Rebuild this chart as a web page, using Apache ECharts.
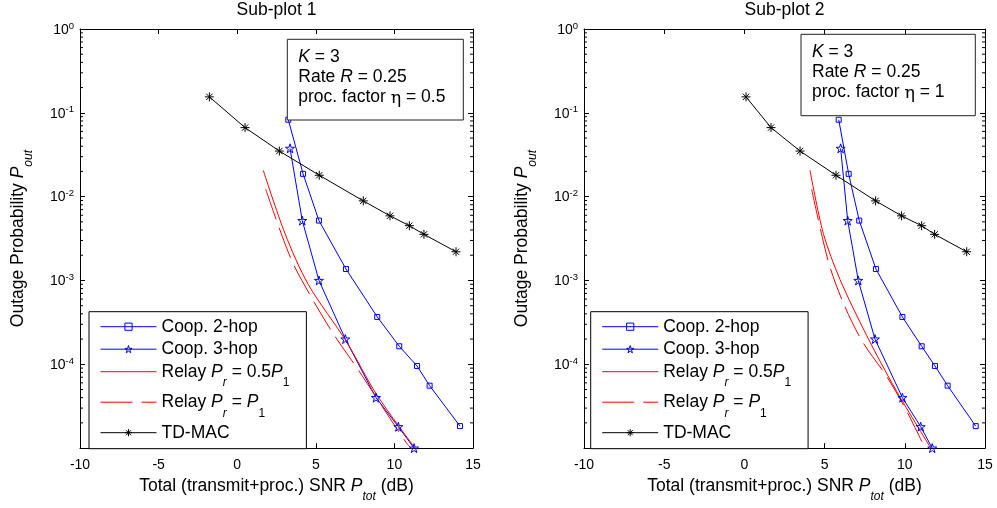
<!DOCTYPE html>
<html>
<head>
<meta charset="utf-8">
<script src="https://cdn.jsdelivr.net/npm/echarts@6/dist/echarts.min.js"></script>
<style>html,body{margin:0;background:#fff}#chart{width:997px;height:508px}</style>
</head>
<body>
<div id="chart"></div>
<script>
// values (x = total SNR in dB, y = outage probability)
const coop2Y = [0.0827, 0.0187, 0.00518, 0.00137, 3.67e-4, 1.64e-4, 9.55e-5, 5.56e-5, 1.83e-5];
const coop3Y = [0.0377, 0.00518, 1.0e-3, 2.0e-4, 4.0e-5, 1.8e-5, 1.0e-5];
const tdY = [0.155, 0.0666, 0.035, 0.018, 0.0089, 0.0059, 0.0045, 0.00355, 0.0022];

// sub-plot 1, eta = 0.5
const coop2X_1 = [3.25, 4.19, 5.20, 6.92, 8.91, 10.31, 11.44, 12.24, 14.17];
const coop3X_1 = [3.36, 4.14, 5.20, 6.88, 8.83, 10.25, 11.25];
const tdX_1 = [-1.77, 0.50, 2.68, 5.22, 8.02, 9.72, 10.95, 11.88, 13.92];
const relaySolidX_1 = [1.66, 3.04, 4.52, 6.96, 8.87, 11.42];
const relaySolidY_1 = [0.0206, 3.63e-3, 8.97e-4, 1.85e-4, 4.35e-5, 9.4e-6];
const relayDashX_1 = [1.81, 3.40, 4.67, 6.11, 7.70, 10.74, 11.3];
const relayDashY_1 = [0.0123, 1.85e-3, 6.53e-4, 2.32e-4, 8.57e-5, 1.17e-5, 9.0e-6];

// sub-plot 2, eta = 1
const coop2X_2 = [5.88, 6.50, 7.16, 8.20, 9.85, 11.05, 11.88, 12.67, 14.42];
const coop3X_2 = [6.00, 6.44, 7.10, 8.14, 9.85, 10.99, 11.71];
const tdX_2 = [0.10, 1.66, 3.47, 5.71, 8.18, 9.80, 11.05, 11.86, 13.86];
const relaySolidX_2 = [4.09, 4.92, 5.96, 7.62, 9.49, 11.68];
const relaySolidY_2 = [0.0206, 3.63e-3, 1.03e-3, 2.21e-4, 4.76e-5, 9.6e-6];
const relayDashX_2 = [4.19, 5.23, 6.13, 7.31, 8.87, 10.01, 11.26];
const relayDashY_2 = [0.0123, 1.69e-3, 5.6e-4, 1.93e-4, 7.15e-5, 3.03e-5, 1.0e-5];

const xTicks = [-10, -5, 0, 5, 10, 15];
const decades = [-5, -4, -3, -2, -1];
const minorMults = [2, 3, 4, 5, 6, 7, 8, 9];

const names = ['Coop. 2-hop', 'Coop. 3-hop', 'Relay Pr = 0.5P1', 'Relay Pr = P1', 'TD-MAC'];
const nameRich = {
  'Coop. 2-hop': '{n|Coop. 2-hop}',
  'Coop. 3-hop': '{n|Coop. 3-hop}',
  'Relay Pr = 0.5P1': '{n|Relay }{i|P}{si|r}{n| = 0.5}{i|P}{s|1}',
  'Relay Pr = P1': '{n|Relay }{i|P}{si|r}{n| = }{i|P}{s|1}',
  'TD-MAC': '{n|TD-MAC}'
};

const FONT = 'Liberation Sans, Arial, Helvetica, sans-serif';
const FS = 17.5;
const rich = {
  n: { fontSize: FS, lineHeight: 18, verticalAlign: 'top', fontFamily: FONT, color: '#000' },
  i: { fontSize: FS, lineHeight: 18, verticalAlign: 'top', fontStyle: 'italic', fontFamily: FONT, color: '#000' },
  s: { fontSize: 12, lineHeight: 12, padding: [14, 0, 0, 0], verticalAlign: 'top', fontFamily: FONT, color: '#000' },
  si: { fontSize: 12, lineHeight: 12, padding: [14, 0, 0, 0], verticalAlign: 'top', fontStyle: 'italic', fontFamily: FONT, color: '#000' }
};
const supRich = {
  b: { fontSize: 14, lineHeight: 16, verticalAlign: 'bottom', fontFamily: FONT, color: '#000' },
  p: { fontSize: 9.5, lineHeight: 9, padding: [0, 0, 10, 0], verticalAlign: 'top', fontFamily: FONT, color: '#000' }
};

const minorVals = [];
decades.forEach(d => minorMults.forEach(m => minorVals.push(m * Math.pow(10, d))));

const zip = (xs, ys) => xs.map((x, i) => [x, ys[i]]);

const STAR = 'path://M0,-1L0.225,-0.309L0.951,-0.309L0.363,0.118L0.588,0.809L0,0.382L-0.588,0.809L-0.363,0.118L-0.951,-0.309L-0.225,-0.309Z';
const ASTER = 'path://M0,-10L0,10M-10,0L10,0M-7,-7L7,7M-7,7L7,-7';
const CLEAR = 'rgba(0,0,0,0)';

function plotSeries(k, d) {
  const ax = { xAxisIndex: k * 2, yAxisIndex: k * 2 };
  return [
    Object.assign({ name: names[0], type: 'line', data: zip(d.c2x, coop2Y), symbol: 'rect', symbolSize: 5,
      lineStyle: { color: '#0000ff', width: 1 }, itemStyle: { color: CLEAR, borderColor: '#0000ff', borderWidth: 1 } }, ax),
    Object.assign({ name: names[1], type: 'line', data: zip(d.c3x, coop3Y), symbol: STAR, symbolSize: 9,
      lineStyle: { color: '#0000ff', width: 1 }, itemStyle: { color: CLEAR, borderColor: '#0000ff', borderWidth: 1 } }, ax),
    Object.assign({ name: names[2], type: 'line', data: zip(d.rsx, d.rsy), showSymbol: false, symbol: 'rect', symbolSize: 2, smooth: 0.3,
      lineStyle: { color: '#ff0000', width: 1 }, itemStyle: { color: CLEAR, borderColor: CLEAR, borderWidth: 0 } }, ax),
    Object.assign({ name: names[3], type: 'line', data: zip(d.rdx, d.rdy), showSymbol: false, symbol: 'rect', symbolSize: 2, smooth: 0.3,
      lineStyle: { color: '#ff0000', width: 1, type: [32, 9] }, itemStyle: { color: CLEAR, borderColor: CLEAR, borderWidth: 0 } }, ax),
    Object.assign({ name: names[4], type: 'line', data: zip(d.tdx, tdY), symbol: ASTER, symbolSize: 9,
      lineStyle: { color: '#000', width: 1 }, itemStyle: { color: CLEAR, borderColor: '#000', borderWidth: 1 } }, ax),
    Object.assign({ type: 'custom', silent: true, clip: false, data: minorVals.map(v => [-10, v]), encode: { x: 0, y: 1 },
      renderItem: (params, api) => {
        const v = api.value(1);
        const l = api.coord([-10, v]), r = api.coord([15, v]);
        return { type: 'group', children: [
          { type: 'line', shape: { x1: l[0], y1: l[1], x2: l[0] + 3, y2: l[1] }, style: { stroke: '#000', lineWidth: 1 } },
          { type: 'line', shape: { x1: r[0], y1: r[1], x2: r[0] - 3, y2: r[1] }, style: { stroke: '#000', lineWidth: 1 } }
        ] };
      } }, ax)
  ];
}

const grids = [
  { left: 80, top: 29, width: 393, height: 425 },
  { left: 584, top: 29, width: 401, height: 425 }
];

const axisLine = { onZero: false, lineStyle: { color: '#000', width: 1 } };
const axisTick = { inside: true, length: 5, lineStyle: { color: '#000' } };
const xAxes = [], yAxes = [];
grids.forEach((g, k) => {
  xAxes.push({
    type: 'value', gridIndex: k, min: xTicks[0], max: xTicks[xTicks.length - 1], interval: 5,
    axisLine: axisLine, axisTick: axisTick,
    axisLabel: { color: '#000', fontSize: 14, fontFamily: FONT, margin: 10 },
    splitLine: { show: false },
    name: '{n|Total (transmit+proc.) SNR }{i|P}{si|tot}{n| (dB)}', nameLocation: 'middle', nameGap: 27,
    nameTextStyle: { rich: rich }
  });
  xAxes.push({
    type: 'value', gridIndex: k, position: 'top', min: xTicks[0], max: xTicks[xTicks.length - 1], interval: 5,
    axisLine: axisLine, axisTick: axisTick,
    axisLabel: { show: false }, splitLine: { show: false }
  });
  yAxes.push({
    type: 'log', gridIndex: k, min: 1e-5, max: 1, logBase: 10,
    axisLine: axisLine, axisTick: axisTick,
    axisLabel: {
      margin: 6,
      formatter: v => {
        const e = Math.round(Math.log10(v));
        if (e <= -5) return '';
        return '{b|10}{p|' + e + '}';
      },
      rich: supRich
    },
    splitLine: { show: false },
    name: '{n|Outage Probability }{i|P}{si|out}', nameLocation: 'middle', nameGap: 53,
    nameTextStyle: { rich: rich }
  });
  yAxes.push({
    type: 'log', gridIndex: k, position: 'right', min: 1e-5, max: 1, logBase: 10,
    axisLine: axisLine, axisTick: axisTick,
    axisLabel: { show: false }, splitLine: { show: false }
  });
});

function legendAt(left) {
  return {
    data: names, orient: 'vertical', left: left, top: 311.7,
    padding: [6, 17, 7, 11], itemGap: 4.5, itemWidth: 56, itemHeight: 9,
    borderColor: '#000', borderWidth: 1, backgroundColor: '#fff',
    selectedMode: false,
    lineStyle: { width: 1 },
    itemStyle: { color: CLEAR, borderWidth: 1 },
    formatter: nm => nameRich[nm],
    textStyle: { rich: rich }
  };
}

function infoBox(x, y, w, h, eta) {
  return {
    type: 'group', children: [
      { type: 'rect', shape: { x: x, y: y, width: w, height: h }, style: { fill: '#fff', stroke: '#222', lineWidth: 1 }, z: 10 },
      { type: 'text', x: x + 11, y: y + 7.5, z: 11, style: {
        text: '{i|K}{n| = 3}\n{n|Rate }{i|R}{n| = 0.25}\n{n|proc. factor }{e|η}{n| = ' + eta + '}',
        rich: {
          n: { fontSize: FS, lineHeight: 20, fontFamily: FONT, fill: '#000' },
          i: { fontSize: FS, lineHeight: 20, fontStyle: 'italic', fontFamily: FONT, fill: '#000' },
          e: { fontSize: FS, lineHeight: 20, padding: [3, 0, 0, 0], fontFamily: 'DejaVu Serif, serif', fill: '#000' }
        }
      } }
    ]
  };
}

const titleStyle = { fontSize: FS, fontWeight: 'normal', color: '#000', fontFamily: FONT };
const chart = echarts.init(document.getElementById('chart'), null, { renderer: 'canvas' });
chart.setOption({
  animation: false,
  backgroundColor: '#fff',
  title: [
    { text: 'Sub-plot 1', left: 276.5, top: 1, textAlign: 'center', padding: 0, textStyle: titleStyle },
    { text: 'Sub-plot 2', left: 784.5, top: 1, textAlign: 'center', padding: 0, textStyle: titleStyle }
  ],
  grid: grids,
  xAxis: xAxes,
  yAxis: yAxes,
  legend: [legendAt(89), legendAt(590.7)],
  graphic: [infoBox(287.3, 39.3, 176, 80.7, '0.5'), infoBox(801, 34.3, 174.3, 81.4, '1')],
  series: plotSeries(0, { c2x: coop2X_1, c3x: coop3X_1, tdx: tdX_1, rsx: relaySolidX_1, rsy: relaySolidY_1, rdx: relayDashX_1, rdy: relayDashY_1 })
    .concat(plotSeries(1, { c2x: coop2X_2, c3x: coop3X_2, tdx: tdX_2, rsx: relaySolidX_2, rsy: relaySolidY_2, rdx: relayDashX_2, rdy: relayDashY_2 }))
});
</script>
</body>
</html>
